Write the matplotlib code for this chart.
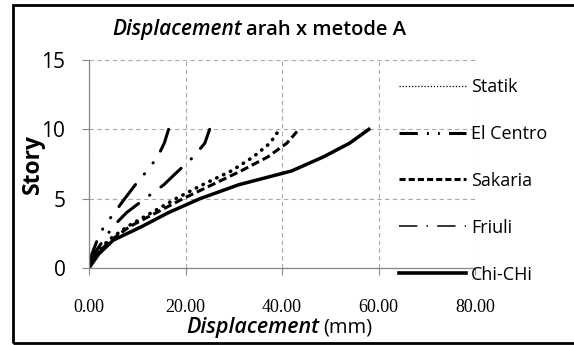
import matplotlib
matplotlib.use('Agg')
import matplotlib.pyplot as plt
from matplotlib.lines import Line2D
from matplotlib.patches import Rectangle

# story levels and displacement (mm) per load case
story = [0, 1, 2, 3, 4, 5, 6, 7, 8, 9, 10]
statik = [0, 1.5, 4.0, 8.0, 13.0, 18.0, 23.5, 29.5, 34.0, 37.5, 39.5]
el_centro = [0, 0.6, 1.7, 3.1, 5.3, 7.4, 9.6, 12.0, 14.2, 15.6, 16.5]
sakaria = [0, 1.6, 4.5, 8.5, 14.0, 19.5, 25.5, 31.5, 37.0, 41.0, 43.5]
friuli = [0, 1.0, 3.0, 5.0, 7.8, 11.6, 15.5, 18.5, 21.6, 24.0, 25.0]
chichi = [0, 2.0, 5.0, 11.0, 16.5, 23.0, 31.0, 42.0, 48.5, 54.0, 58.0]

labels = ['Statik', 'El Centro', 'Sakaria', 'Friuli', 'Chi-CHi']
xticks = [0, 20, 40, 60, 80]
yticks = [0, 5, 10, 15]

FONT = 'Open Sans'
W, H = 574, 345
fig = plt.figure(figsize=(W / 100, H / 100), dpi=100)
ax = fig.add_axes([89 / W, 1 - 268 / H, 386 / W, 208 / H])

lw = 2.2
ax.plot(statik, story, color='black', lw=2.6, linestyle=(0, (0.1, 2.0)), dash_capstyle='round')
ax.plot(el_centro, story, color='black', lw=lw, linestyle=(0, (9, 4.5, 0.1, 4.5, 0.1, 4.5)), dash_capstyle='round')
ax.plot(sakaria, story, color='black', lw=lw, linestyle=(0, (2.7, 1.3)))
ax.plot(friuli, story, color='black', lw=lw, linestyle=(0, (9, 4.5, 0.1, 4.5)), dash_capstyle='round')
ax.plot(chichi, story, color='black', lw=lw + 0.3, linestyle='-')

ax.set_xlim(0, 80)
ax.set_ylim(0, 15)
ax.set_xticks(xticks)
ax.set_yticks(yticks)
ax.set_xticklabels(['%.2f' % v for v in xticks], family='Liberation Serif', fontsize=13)
ax.set_yticklabels([str(v) for v in yticks], family=FONT, fontsize=15)
ax.tick_params(axis='x', length=5, width=0.8, color='#888888', pad=17)
ax.tick_params(axis='y', length=5, width=0.8, color='#888888', pad=12)
ax.grid(True, color='#aaaaaa', linestyle=(0, (4, 3)), linewidth=0.8)
ax.set_axisbelow(True)
for s in ['top', 'right']:
    ax.spines[s].set_visible(False)
for s in ['left', 'bottom']:
    ax.spines[s].set_color('#888888')
    ax.spines[s].set_linewidth(0.9)

ax.set_ylabel('Story', family=FONT, fontweight='bold', fontsize=16.5)
ax.yaxis.set_label_coords((45 - 89) / 386, 0.5)

# title and x label with italic part
fig.text(242 / W, 1 - 30 / H, 'Displacement', family=FONT, style='italic',
         fontweight='semibold', fontsize=15, ha='right', va='center')
fig.text(246 / W, 1 - 30 / H, 'arah x metode A', family=FONT,
         fontweight='semibold', fontsize=14.5, ha='left', va='center')
fig.text(319 / W, 1 - 327 / H, 'Displacement', family=FONT, style='italic',
         fontweight='semibold', fontsize=15.5, ha='right', va='center')
fig.text(323 / W, 1 - 327 / H, '(mm)', family=FONT,
         fontsize=14.5, ha='left', va='center')

handles = [
    Line2D([], [], color='black', lw=0.9, linestyle=(0, (1, 1.5))),
    Line2D([], [], color='black', lw=2.2, linestyle=(0, (6, 3, 0.6, 3, 0.6, 3))),
    Line2D([], [], color='black', lw=2.2, linestyle=(0, (2, 1))),
    Line2D([], [], color='black', lw=1.1, linestyle=(0, (12, 6, 1, 6))),
    Line2D([], [], color='black', lw=2.6, linestyle='-'),
]
leg = ax.legend(handles, labels, loc='upper left', frameon=False,
                bbox_to_anchor=(399 / W, 1 - 78 / H), bbox_transform=fig.transFigure,
                borderpad=0, borderaxespad=0, handlelength=3.7, handletextpad=0.3,
                labelspacing=1.6, prop={'family': FONT, 'size': 13})

fig.patches.append(Rectangle((12.5 / W, 1 - 342.5 / H), 2, (338 / H),
                             transform=fig.transFigure, fill=False,
                             edgecolor='black', linewidth=2, clip_on=False))

fig.savefig('out.png', dpi=100)
